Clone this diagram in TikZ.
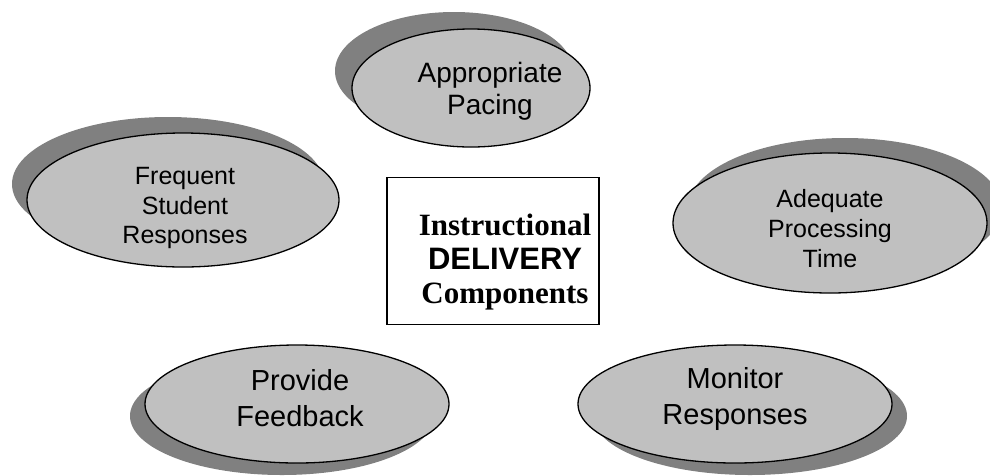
\documentclass[tikz,border=0pt]{standalone}
\usepackage{fontspec}
\setmainfont{Liberation Sans}
\newfontfamily\timesfont{Liberation Serif}
\usetikzlibrary{shapes.geometric,shadows}
\definecolor{ellfill}{RGB}{192,192,192}
\definecolor{shadowfill}{RGB}{128,128,128}
\begin{document}
\begin{tikzpicture}[x=1pt,y=-1pt,
  comp/.style={ellipse, draw=black, line width=1.3pt, fill=ellfill, inner sep=0pt},
  label/.style={align=center, inner sep=0pt, text=black},
  big/.style={font=\fontsize{29}{36}\selectfont},
  small/.style={font=\fontsize{25}{29.5}\selectfont},
  shad/.style 2 args={drop shadow={shadow xshift=#1pt, shadow yshift=#2pt, opacity=1, fill=shadowfill}},
  centerbox/.style={draw=black, line width=1.3pt, fill=white, inner sep=0pt}
]
\useasboundingbox (0,0) rectangle (990,475);
% ellipses
\node[comp, shad={-17}{17}, minimum width=238pt, minimum height=118pt] (pace) at (471,88) {};
\node[comp, shad={-15}{16}, minimum width=312pt, minimum height=134pt] (freq) at (183,200) {};
\node[comp, shad={15}{15}, minimum width=314pt, minimum height=140pt] (adeq) at (830,223) {};
\node[comp, shad={-15}{-12}, minimum width=304pt, minimum height=118pt] (feed) at (297,404) {};
\node[comp, shad={15}{-12}, minimum width=314pt, minimum height=118pt] (mon) at (735,404) {};
% texts
\node[label, font=\fontsize{28}{32}\selectfont] (pace-t) at (490,91) {Appropriate\\Pacing};
\node[label, small] (freq-t) at (185,208) {Frequent\\Student\\Responses};
\node[label, font=\fontsize{25}{30}\selectfont] (adeq-t) at (830,229) {Adequate\\Processing\\Time};
\node[label, big] (feed-t) at (300,398) {Provide\\Feedback};
\node[label, big] (mon-t) at (735,399) {Monitor\\Responses};
% centre box
\node[centerbox, minimum width=212pt, minimum height=147pt] (core) at (493,251) {};
\node[label, font=\fontsize{31}{34}\selectfont] (core-t) at (505,262)
  {{\timesfont\bfseries Instructional}\\
   {\bfseries\fontsize{31}{34}\selectfont DELIVERY}\\
   {\timesfont\bfseries Components}};
\end{tikzpicture}
\end{document}
